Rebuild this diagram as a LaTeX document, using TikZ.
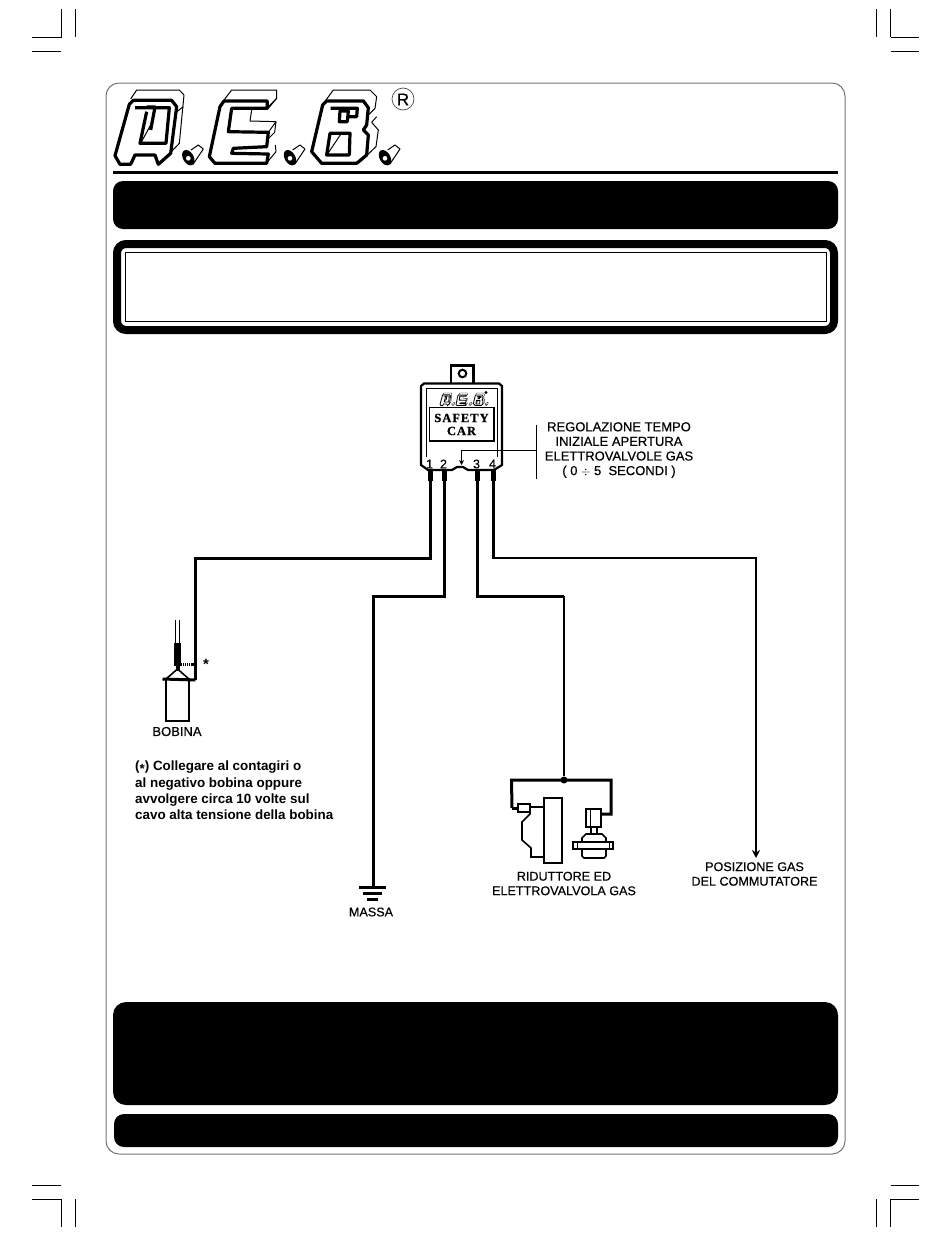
\documentclass[tikz,border=0pt]{standalone}
\usepackage{fontspec}
\setmainfont{Liberation Sans}
\newfontfamily\stampfont[LetterSpace=8,FakeBold=1]{Liberation Serif}
\newfontfamily\labelfont[FakeBold=.5]{Liberation Sans}
\usetikzlibrary{calc,arrows.meta}
\tikzset{cropline/.style={draw,line width=1pt}}
\tikzset{blackbox/.style={fill=black,rounded corners=10pt}}
\tikzset{wire/.style={draw,line width=3pt,line join=miter}}
\tikzset{thinwire/.style={draw,line width=2.4pt,line join=miter}}
\tikzset{pinstub/.style={draw,line width=5pt}}
\tikzset{partline/.style={draw,line width=1.6pt,line join=miter}}
\tikzset{logothick/.style={draw,line width=3.2pt,line join=round}}
\tikzset{logothin/.style={draw,line width=1pt,line join=round}}
\tikzset{wiredot/.style={circle,fill=black,inner sep=0pt,minimum size=7pt}}
\tikzset{labeltext/.style={inner sep=0pt,align=center,font=\fontsize{12.6}{14.6}\labelfont}}
\tikzset{pinnum/.style={inner sep=0pt,font=\fontsize{12.5}{13}\labelfont}}
\newcommand{\debletters}{
    % A
    \draw[logothin] (92,72) -- (110,45) -- (238,45) -- (252,60) -- (238,205) -- (178,268);
    \draw[logothin] (250,95) -- (228,112);
    \draw[logothick] (45,242) -- (88,88) -- (100,76) -- (215,76) -- (230,95) -- (212,235) -- (175,268) -- (165,240) -- (105,240) -- (92,268) -- (60,268) -- cycle;
    \draw[logothick] (105,98) -- (208,98) -- (198,205) -- (120,205) -- (140,110);
    \draw[logothick] (140,96) -- (165,96) -- (152,165);
    \draw[logothin] (122,205) -- (160,135);
    % E
    \draw[logothin] (372,75) -- (395,45) -- (530,45) -- (530,70) -- (502,98);
    \draw[logothin] (505,100) -- (530,70);
    \draw[logothin] (455,105) -- (450,138) -- (528,140) -- (524,172) -- (504,192);
    \draw[logothin] (505,172) -- (528,140);
    \draw[logothin] (526,210) -- (528,230) -- (500,264);
    \draw[logothick] (372,78) -- (502,78) -- (502,100) -- (395,100) -- (385,170) -- (505,172) -- (500,215) -- (400,220) -- (395,235) -- (505,237) -- (500,265) -- (345,265) -- (328,245) -- (360,95) -- cycle;
    % B
    \draw[logothin] (678,75) -- (700,45) -- (810,45) -- (830,65) -- (825,100) -- (805,120);
    \draw[logothin] (830,125) -- (815,142) -- (835,165) -- (828,215) -- (775,265);
    \draw[logothick] (680,78) -- (790,78) -- (805,98) -- (800,150) -- (790,165) -- (805,180) -- (800,240) -- (770,265) -- (665,265) -- (635,230) -- (668,90) -- cycle;
    \draw[logothick] (692,100) -- (772,100) -- (770,125) -- (745,125);
    \draw[logothick] (720,108) -- (745,108) -- (742,140) -- (718,140) -- cycle;
    \draw[logothick] (690,175) -- (750,175) -- (748,240) -- (680,240) -- cycle;
    \draw[logothin] (682,238) -- (722,178);
    % dots
    \foreach \x in {265,570,855}{
      \draw[logothin] (\x+8,225) -- (\x+30,210) -- (\x+45,222) -- (\x+14,268);
      \fill[rotate around={30:(\x,248)}] (\x,248) ellipse [x radius=16,y radius=25];
      \fill[white] (\x,250) circle [radius=7];
    }
}

\begin{document}
\begin{tikzpicture}[x=1pt,y=-1pt]
    \useasboundingbox (0,0) rectangle (950,1237);

    % crop marks
    \foreach \xa/\xc in {61.5/75.5,876.5/890.5}{
      \draw[cropline] (\xa,9) -- (\xa,37);
      \draw[cropline] (\xc,9) -- (\xc,37);
      \draw[cropline] (\xa,1199) -- (\xa,1227);
      \draw[cropline] (\xc,1199) -- (\xc,1227);
    }
    \draw[cropline] (32,37) -- (61.5,37);
    \draw[cropline] (32,51) -- (61,51);
    \draw[cropline] (32,1185) -- (61,1185);
    \draw[cropline] (32,1199) -- (61.5,1199);
    \draw[cropline] (890.5,37) -- (919,37);
    \draw[cropline] (890.5,51) -- (919,51);
    \draw[cropline] (890.5,1185) -- (919,1185);
    \draw[cropline] (890.5,1199) -- (919,1199);

    % page frame and panels
    \draw[line width=1pt,black!55,rounded corners=13pt] (106,83) rectangle (845,1154);
    \draw[line width=3pt] (113,172.5) -- (838,172.5);
    \fill[blackbox] (113,181) rectangle (838,229);
    \draw[line width=8pt,rounded corners=9pt] (117,244) rectangle (834,330);
    \draw[line width=.8pt] (125,252) rectangle (826,321);
    \fill[blackbox,rounded corners=13pt] (113,1002) rectangle (838,1105);
    \fill[blackbox] (114,1114) rectangle (838,1147);

    % logo
    \begin{scope}[shift={(100,75)},scale=1/3]
      \debletters
    \end{scope}
    \draw[line width=.7pt,black!70] (403,99) circle [radius=11];
    \node[inner sep=0pt,font=\fontsize{17}{17}\labelfont] (regmark) at (403,99.5) {R};

    % safety car module
    \draw[line width=2.4pt,line join=miter] (451,383) -- (451,365.5) -- (473.5,365.5) -- (473.5,383);
    \draw[line width=2pt] (462.5,373.5) circle [radius=3.8];
    \draw[line width=2.2pt] (421,386) -- (424,383.5) -- (499,383.5) -- (502,386) -- (502,465) -- (494,470) -- (468,470) -- (463,467) -- (457,467) -- (452,470) -- (428,470) -- (421,465) -- cycle;
    \draw[line width=.7pt] (426,457) -- (426,388.5) -- (497,388.5) -- (497,457);
    \begin{scope}[shift={(437.5,390.5)},scale=.0565]
      \tikzset{logothick/.style={draw,line width=.8pt},logothin/.style={draw,line width=.3pt}}
      \debletters
    \end{scope}
    \fill (486,392.5) circle [radius=1.6];
    \draw[line width=1.8pt] (429.5,407.5) rectangle (494,441);
    \node[inner sep=0pt,align=center,font=\fontsize{12.5}{13}\bfseries\stampfont] (safetycar) at (461.5,424.5) {SAFETY\\CAR};
    \foreach \nm/\px/\lb in {pinone/430/1,pintwo/444/2,pinthree/477/3,pinfour/493/4}{
      \node[pinnum] (\nm-label) at (\px-.5,464) {\lb};
      \coordinate (\nm-top) at (\px,470);
      \coordinate (\nm-end) at (\px,481);
      \draw[pinstub] (\nm-top) -- (\nm-end);
    }

    % trimmer label
    \coordinate (trimtop) at (536.5,425);
    \coordinate (trimbot) at (536.5,479);
    \coordinate (trimjoin) at (536.5,450);
    \coordinate (trimtip) at (461.5,465);
    \draw[line width=.8pt] (trimtop) -- (trimbot);
    \draw[line width=.8pt,-{Stealth[length=5pt,width=5pt]}] (trimjoin) -| (trimtip);
    \node[labeltext,font=\fontsize{13}{14.6}\labelfont] (trimlabel) at (619,450) {REGOLAZIONE TEMPO\\INIZIALE APERTURA\\ELETTROVALVOLE GAS\\( 0 $\div$ 5\ \ SECONDI )};

    % wiring
    \node[wiredot] (junction) at (564,780) {};
    \coordinate (bobinatop) at (195.5,680);
    \coordinate (massatop) at (373,887);
    \coordinate (gastip) at (756,858);
    \draw[wire] (pinone-end) -- (430,558) -- (195.5,558) -- (bobinatop);
    \draw[wire] (pintwo-end) -- (444,596) -- (373,596) -- (massatop);
    \draw[wire] (pinthree-end) -- (477,596) -- (564,596);
    \draw[thinwire] (564,596) -- (junction);
    \draw[thinwire,-{Stealth[length=8pt,width=8pt]}] (pinfour-end) -- (493,558) -- (756,558) -- (gastip);
    \draw[wire] (pinfour-end) -- (493,558);

    % bobina
    \draw[partline] (166,679) rectangle (189,721);
    \draw[line width=3pt] (162.5,679) -- (bobinatop);
    \draw[partline] (166,679) -- (177.5,669) -- (189,679);
    \fill (174,643) rectangle (181,666);
    \fill (175.5,666) rectangle (179.5,671);
    \draw[line width=1pt] (175.5,620) -- (175.5,643);
    \draw[line width=1pt] (179.5,620) -- (179.5,643);
    \draw[line width=3pt,dash pattern=on 1pt off 1pt] (181,664) -- (191,664);
    \draw[line width=3pt] (191,664) -- (195,664);
    \node[inner sep=0pt,font=\fontsize{15}{15}\bfseries\selectfont] (starnote) at (206,664) {*};
    \node[labeltext,font=\fontsize{13}{14.6}\labelfont] (bobinalabel) at (177,731.5) {BOBINA};
    \node[inner sep=0pt,align=left,anchor=north west,font=\fontsize{13.4}{16.3}\bfseries\selectfont] (bobinanote) at (135,761) {(\raisebox{-2.5pt}{*}) Collegare al contagiri o\\al negativo bobina oppure\\avvolgere circa 10 volte sul\\cavo alta tensione della bobina};

    % massa
    \draw[line width=3pt] (359,887) -- (386,887);
    \draw[line width=3pt] (363,893) -- (382,893);
    \draw[line width=3pt] (367,899) -- (378,899);
    \node[labeltext] (massalabel) at (371,912) {MASSA};

    % riduttore
    \coordinate (loopleft) at (512,808);
    \coordinate (loopright) at (601,814);
    \draw[wire] (loopleft) -- (511.5,780) -- (611,780) -- (611,814) -- (loopright);
    \draw[wire] (loopleft) -- (518,808);
    \draw[partline] (518,804) rectangle (530,812);
    \draw[partline] (530,807) -- (544,807);
    \draw[partline] (530,812) -- (530,814) -- (522,822) -- (522,840) -- (531,848) -- (531,857) -- (544,857);
    \draw[partline] (544,798) rectangle (562,863);
    \draw[partline] (586,809) rectangle (601,827);
    \draw[line width=.8pt] (590,809) -- (590,827);
    \draw[partline] (591,827) -- (591,834);
    \draw[partline] (597,827) -- (597,834);
    \draw[partline] (582,842) -- (582,838) -- (586,834) -- (602,834) -- (606,838) -- (606,842);
    \draw[partline] (573,842) rectangle (613,849);
    \draw[line width=.8pt] (577,842) -- (577,849);
    \draw[line width=.8pt] (609,842) -- (609,849);
    \draw[partline] (582,849) -- (582,856) -- (584,858) -- (604,858) -- (606,856) -- (606,849);
    \node[labeltext] (riduttorelabel) at (564,883.5) {RIDUTTORE ED\\ELETTROVALVOLA GAS};

    % commutatore
    \node[labeltext] (commutlabel) at (754.5,874) {POSIZIONE GAS\\DEL COMMUTATORE};
\end{tikzpicture}
\end{document}
